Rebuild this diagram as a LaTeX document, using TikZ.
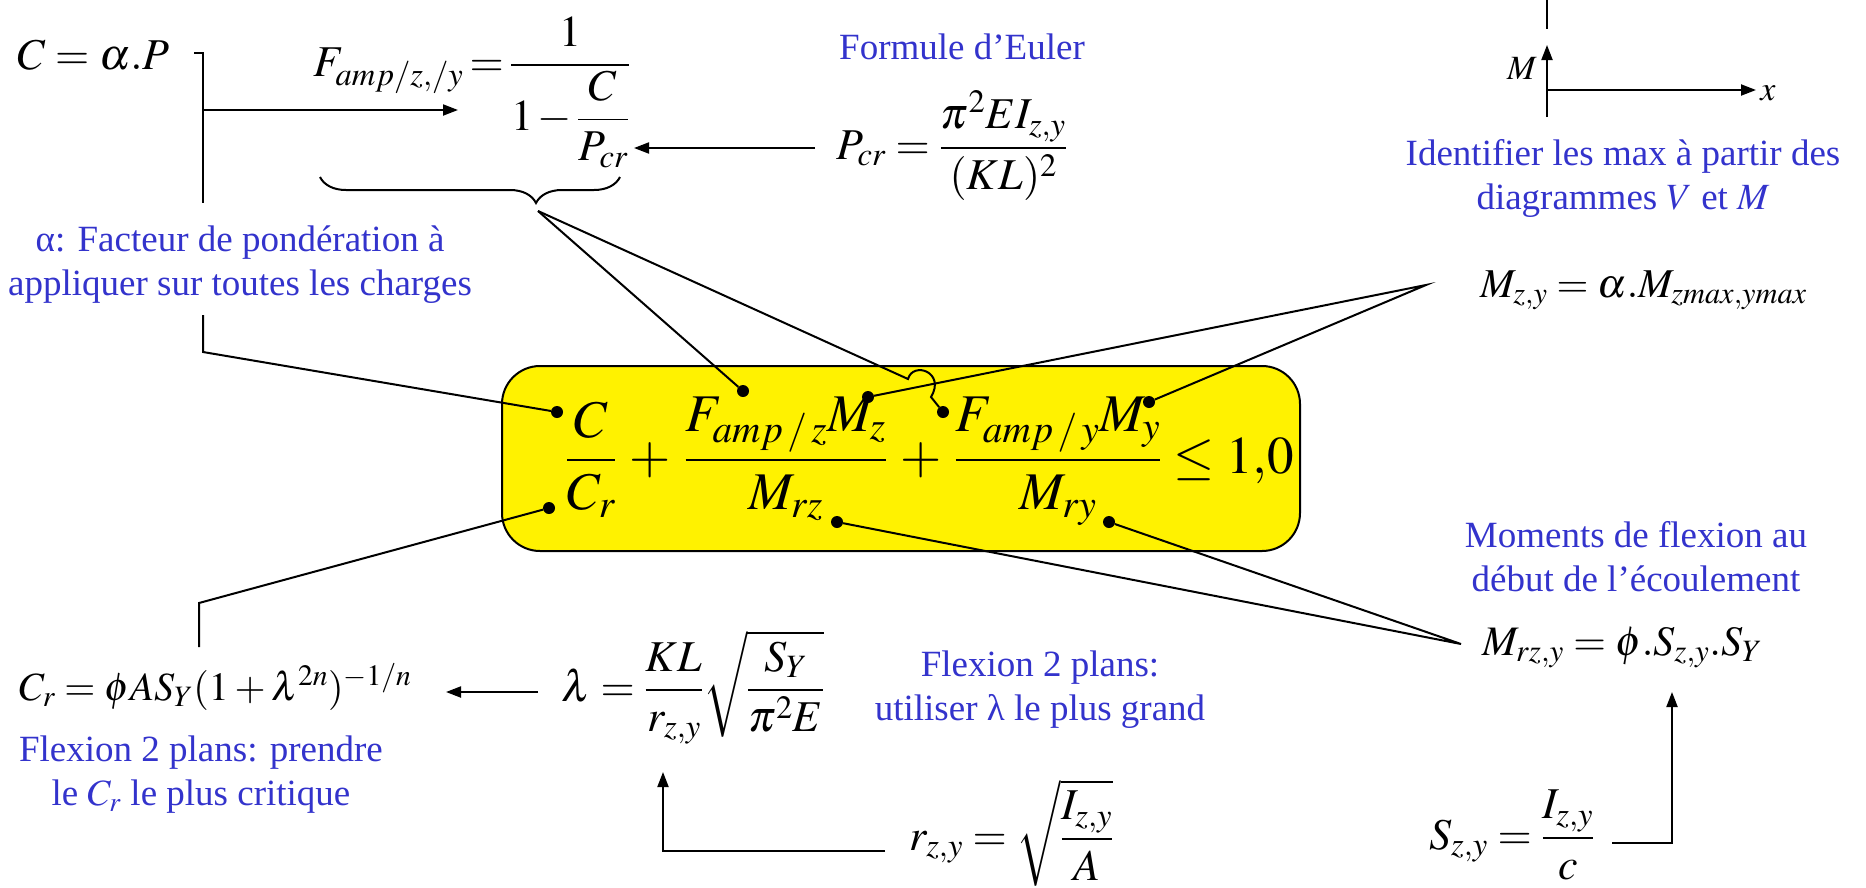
\documentclass[tikz,border=0pt]{standalone}
\usepackage{amsmath}
\usepackage{mathptmx}
\usepackage[no-math]{fontspec}
\setmainfont{Liberation Serif}
\usetikzlibrary{arrows.meta,decorations.pathreplacing}
\definecolor{blu}{RGB}{51,51,204}
\begin{document}
\begin{tikzpicture}[x=1pt,y=-1pt,
  ln/.style={line width=2pt},
  arr/.style={line width=2pt,-{Triangle[length=15pt,width=11pt]}},
  dot/.style={circle,fill=black,inner sep=0pt,minimum size=12pt},
  lbl/.style={text=blu,font=\fontsize{37}{44}\selectfont,align=center,inner sep=0pt},
  eq/.style={font=\fontsize{44}{50}\selectfont,inner sep=0pt,anchor=base west},
  bigeq/.style={font=\fontsize{53}{60}\selectfont,inner sep=0pt,anchor=base west},
  axl/.style={font=\fontsize{34}{40}\selectfont,inner sep=0pt}]
\useasboundingbox (0,0) rectangle (1866,887);

% central box
\node[draw,line width=2pt,fill=yellow,rounded corners=38pt,minimum width=798pt,minimum height=185pt,inner sep=0pt] (box) at (901,458.5) {};
\node[bigeq] (main) at (566,473) {$\medmuskip=4.5mu\thickmuskip=4mu\dfrac{C}{C_r}+\dfrac{F_{amp\,/\,z}M_z}{M_{rz}}+\dfrac{F_{amp\,/\,y}M_y}{M_{ry}}\leq 1{,}0$};

% dots
\node[dot] (dC) at (557,412) {};
\node[dot] (dCr) at (549,508) {};
\node[dot] (dFz) at (743,391) {};
\node[dot] (dMz) at (868,397) {};
\node[dot] (dFy) at (943,412) {};
\node[dot] (dMy) at (1149,402) {};
\node[dot] (dMrz) at (837,522) {};
\node[dot] (dMry) at (1109,522) {};

% formulas
\node[eq] (caP) at (17,69) {$C = \alpha.P$};
\node[eq] (famp) at (313,76) {$\thickmuskip=2.5mu\medmuskip=2mu F_{amp/z,/y} = \dfrac{1}{1-\dfrac{C}{P_{cr}}}$};
\node[eq] (pcr) at (836,159) {$P_{cr} = \dfrac{\pi^2EI_{z,y}}{(KL)^2}$};
\node[eq,font=\fontsize{41}{48}\selectfont] (mzy) at (1480,297) {$M_{z,y} = \alpha.M_{zmax,ymax}$};
\node[eq,font=\fontsize{40}{46}\selectfont] (cr) at (19,700) {$C_r = \phi AS_Y(1+\lambda^{2n})^{-1/n}$};
\node[eq] (lam) at (561,701) {$\lambda = \dfrac{KL}{r_{z,y}}\sqrt{\dfrac{S_Y}{\pi^2E}}$};
\node[eq] (rzy) at (909,850) {$r_{z,y} = \sqrt{\dfrac{I_{z,y}}{A}}$};
\node[eq] (szy) at (1429,849) {$S_{z,y} = \dfrac{I_{z,y}}{c}$};
\node[eq,font=\fontsize{42}{48}\selectfont] (mrzy) at (1482,655) {$M_{rz,y} = \phi.S_{z,y}.S_Y$};

% blue labels
\node[lbl] (euler) at (962,47) {Formule d’Euler};
\node[lbl] (ident) at (1623,178) {Identifier les max à partir des\\diagrammes $V$ et $M$};
\node[lbl] (alpha) at (240,265) {α: Facteur de pondération à\\appliquer sur toutes les charges};
\node[lbl] (flexA) at (201,775) {Flexion 2 plans: prendre\\le $C_r$ le plus critique};
\node[lbl] (flexB) at (1040,690) {Flexion 2 plans:\\utiliser λ le plus grand};
\node[lbl] (moments) at (1636,557) {Moments de flexion au\\début de l’écoulement};

% axes (top right)
\coordinate (axT1) at (1547,0);
\coordinate (axT2) at (1547,29);
\coordinate (axO) at (1547,117);
\coordinate (axM) at (1547,45);
\coordinate (axH) at (1547,90);
\coordinate (axX) at (1756,90);
\draw[ln] (axT1) -- (axT2);
\draw[arr] (axO) -- (axM);
\draw[arr] (axH) -- (axX);
\node[axl] (labM) at (1522,68) {$M$};
\node[axl] (labX) at (1768,93) {$x$};

% C = alpha P connectors
\coordinate (cA) at (194,53);
\coordinate (cB) at (203,53);
\coordinate (cC) at (203,203);
\coordinate (cD) at (203,315);
\coordinate (cE) at (203,352);
\coordinate (cF) at (203,110);
\coordinate (cG) at (458,110);
\draw[ln] (cA) -- (cB) -- (cC);
\draw[ln] (cD) -- (cE) -- (dC);
\draw[arr] (cF) -- (cG);

% Pcr arrow
\coordinate (pA) at (815,148);
\coordinate (pB) at (634,148);
\draw[arr] (pA) -- (pB);

% brace
\coordinate (brL) at (320,177);
\coordinate (brR) at (620,177);
\coordinate (brTip) at (538,211);
\draw[ln,decorate,decoration={brace,mirror,amplitude=26pt,aspect=0.72}] (brL) -- (brR);
\coordinate (hopA) at (908,379);
\coordinate (hopB) at (931,397);
\draw[ln] (brTip) -- (dFz);
\draw[ln] (brTip) -- (hopA) .. controls (913,361) and (946,372) .. (hopB) -- (dFy);

% Mz,y connectors
\coordinate (mzP) at (1426,285);
\draw[ln] (dMz) -- (mzP) -- (dMy);

% Mrz,y connectors
\coordinate (mrP) at (1461,644);
\draw[ln] (dMrz) -- (mrP) -- (dMry);

% Cr connector
\coordinate (crB) at (199,603);
\coordinate (crC) at (199,647);
\draw[ln] (dCr) -- (crB) -- (crC);

% lambda arrow
\coordinate (laA) at (538,692);
\coordinate (laB) at (446,692);
\draw[arr] (laA) -- (laB);

% r arrow
\coordinate (rA) at (885,851);
\coordinate (rB) at (663,851);
\coordinate (rC) at (663,772);
\draw[arr] (rA) -- (rB) -- (rC);

% S arrow
\coordinate (sA) at (1612,843);
\coordinate (sB) at (1672,843);
\coordinate (sC) at (1672,692);
\draw[arr] (sA) -- (sB) -- (sC);
\end{tikzpicture}
\end{document}
